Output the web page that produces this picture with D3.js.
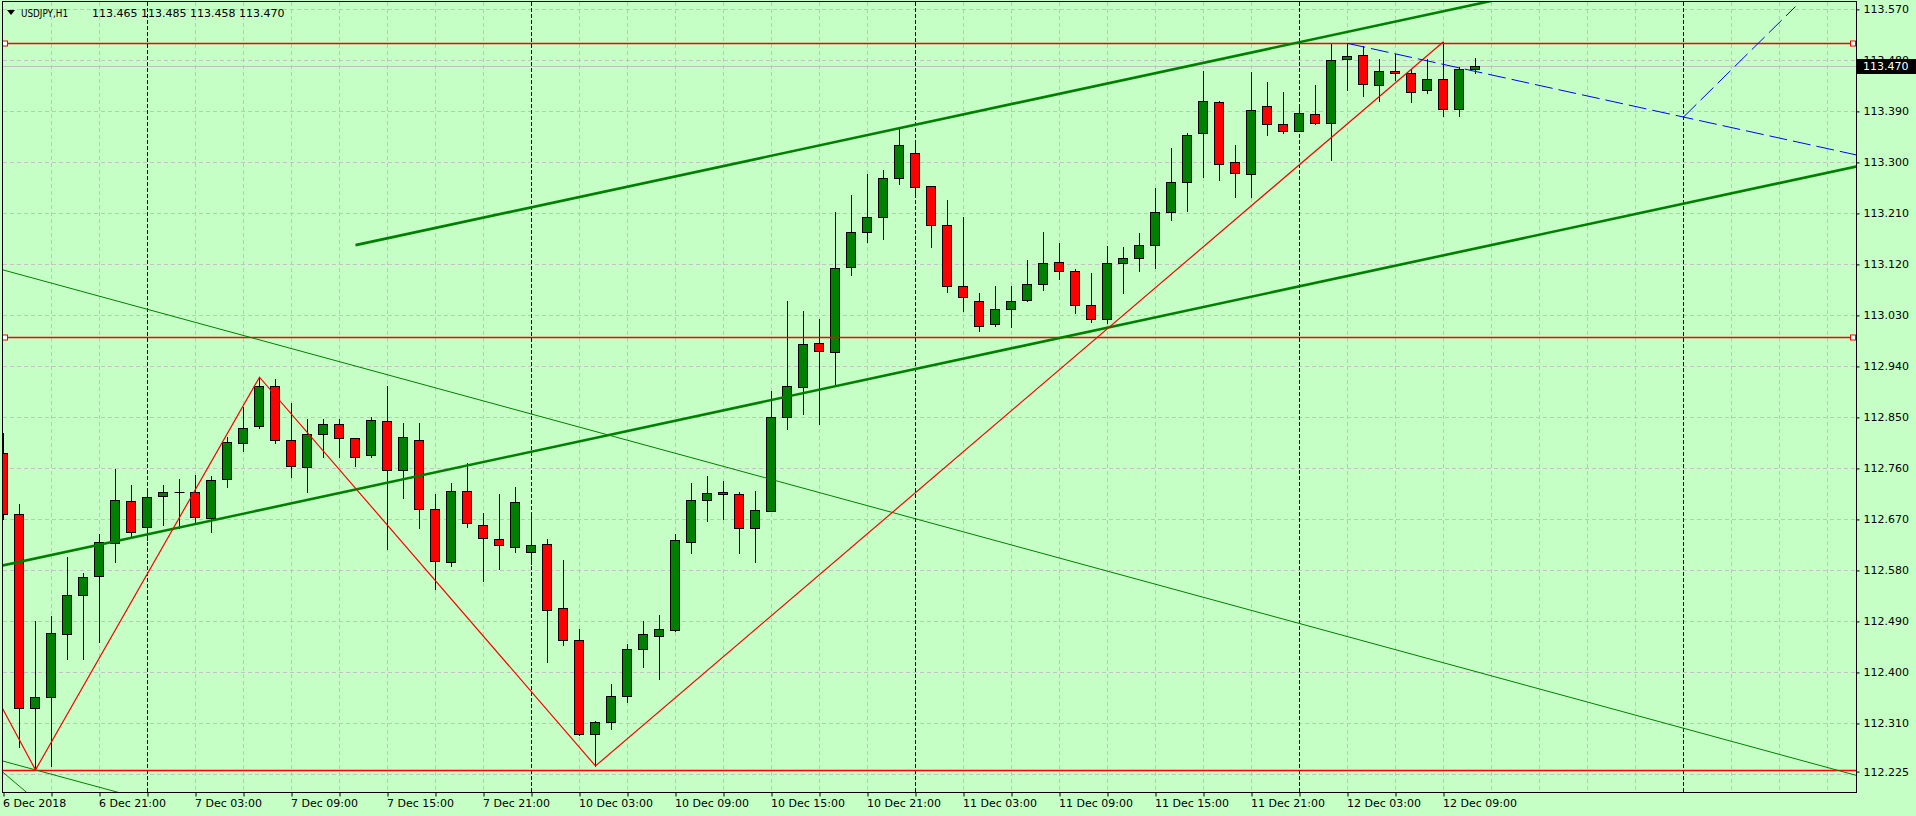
<!DOCTYPE html>
<html lang="en">
<head>
<meta charset="UTF-8">
<title>USDJPY,H1</title>
<style>
  * { margin: 0; box-sizing: border-box; }
  body { background: #c5ffc5; overflow: hidden; }
  svg { display: block; font-family: 'DejaVu Sans', sans-serif; font-size: 11px; }
  .grid line { stroke: #c3c3c3; stroke-dasharray: 4,3; shape-rendering: crispEdges; }
  .sep line { stroke: #000; stroke-dasharray: 4,2; shape-rendering: crispEdges; }
</style>
</head>
<body>
<svg></svg>
<script src="https://d3js.org/d3.v7.min.js"></script>
<script>
  const symbol = 'USDJPY,H1';

  // hourly bars, 6 Dec 15:00 .. 12 Dec 11:00
  const opens = [
    112.788, 112.679, 112.337, 112.356, 112.467, 112.536, 112.571, 112.629, 112.702, 112.656,
    112.711, 112.718, 112.718, 112.672, 112.741, 112.804, 112.834, 112.906, 112.811, 112.762,
    112.820, 112.839, 112.813, 112.783, 112.843, 112.758, 112.811, 112.688, 112.594, 112.721,
    112.661, 112.636, 112.621, 112.612, 112.626, 112.513, 112.457, 112.291, 112.312, 112.358,
    112.441, 112.465, 112.474, 112.631, 112.705, 112.718, 112.714, 112.654, 112.684, 112.850,
    112.903, 112.981, 112.966, 113.115, 113.178, 113.203, 113.272, 113.316, 113.258, 113.189,
    113.081, 113.056, 113.014, 113.042, 113.058, 113.085, 113.125, 113.108, 113.049, 113.023,
    113.122, 113.132, 113.155, 113.213, 113.266, 113.351, 113.406, 113.300, 113.279, 113.399,
    113.367, 113.356, 113.386, 113.369, 113.482, 113.489, 113.437, 113.462, 113.457, 113.427,
    113.448, 113.395, 113.465
  ];
  const highs = [
    112.822, 112.698, 112.491, 112.499, 112.604, 112.575, 112.644, 112.759, 112.730, 112.725,
    112.730, 112.742, 112.749, 112.746, 112.815, 112.869, 112.921, 112.918, 112.875, 112.848,
    112.848, 112.848, 112.814, 112.850, 112.905, 112.841, 112.841, 112.714, 112.734, 112.769,
    112.682, 112.714, 112.727, 112.682, 112.635, 112.598, 112.476, 112.314, 112.379, 112.451,
    112.490, 112.501, 112.644, 112.734, 112.746, 112.737, 112.719, 112.721, 112.896, 113.055,
    113.037, 113.023, 113.213, 113.242, 113.279, 113.286, 113.360, 113.339, 113.259, 113.233,
    113.203, 113.069, 113.081, 113.081, 113.127, 113.178, 113.157, 113.111, 113.104, 113.153,
    113.150, 113.176, 113.254, 113.326, 113.351, 113.461, 113.409, 113.330, 113.459, 113.441,
    113.425, 113.402, 113.436, 113.510, 113.510, 113.506, 113.483, 113.492, 113.464, 113.482,
    113.513, 113.468, 113.485
  ];
  const lows = [
    112.670, 112.269, 112.228, 112.235, 112.424, 112.424, 112.454, 112.594, 112.638, 112.634,
    112.661, 112.654, 112.666, 112.647, 112.728, 112.790, 112.831, 112.804, 112.745, 112.718,
    112.780, 112.780, 112.764, 112.781, 112.617, 112.707, 112.654, 112.548, 112.587, 112.656,
    112.562, 112.582, 112.612, 112.592, 112.419, 112.449, 112.289, 112.235, 112.301, 112.347,
    112.409, 112.388, 112.473, 112.610, 112.667, 112.670, 112.610, 112.594, 112.684, 112.830,
    112.856, 112.838, 112.906, 113.101, 113.159, 113.164, 113.261, 113.240, 113.150, 113.072,
    113.037, 113.002, 113.011, 113.009, 113.056, 113.075, 113.095, 113.035, 113.018, 113.016,
    113.069, 113.108, 113.113, 113.199, 113.215, 113.275, 113.269, 113.239, 113.239, 113.349,
    113.351, 113.355, 113.368, 113.305, 113.427, 113.418, 113.409, 113.445, 113.406, 113.422,
    113.381, 113.381, 113.458
  ];
  const closes = [
    112.679, 112.337, 112.357, 112.469, 112.536, 112.569, 112.631, 112.704, 112.647, 112.709,
    112.718, 112.718, 112.674, 112.739, 112.806, 112.832, 112.906, 112.811, 112.764, 112.820,
    112.839, 112.813, 112.781, 112.845, 112.758, 112.815, 112.688, 112.596, 112.721, 112.663,
    112.638, 112.624, 112.700, 112.624, 112.511, 112.457, 112.291, 112.312, 112.358, 112.442,
    112.467, 112.476, 112.633, 112.704, 112.716, 112.714, 112.654, 112.686, 112.850, 112.905,
    112.979, 112.968, 113.113, 113.178, 113.203, 113.272, 113.330, 113.256, 113.190, 113.081,
    113.062, 113.011, 113.042, 113.056, 113.085, 113.122, 113.109, 113.049, 113.023, 113.122,
    113.132, 113.155, 113.212, 113.266, 113.349, 113.409, 113.298, 113.281, 113.393, 113.367,
    113.356, 113.388, 113.369, 113.480, 113.487, 113.439, 113.462, 113.457, 113.425, 113.448,
    113.395, 113.464, 113.470
  ];

  const priceGrid = [113.570, 113.480, 113.390, 113.300, 113.210, 113.120, 113.030, 112.940,
    112.850, 112.760, 112.670, 112.580, 112.490, 112.400, 112.310, 112.220];
  const priceLabels = [113.570, 113.480, 113.390, 113.300, 113.210, 113.120, 113.030, 112.940,
    112.850, 112.760, 112.670, 112.580, 112.490, 112.400, 112.310, 112.225];

  const labelBars = [0, 6, 12, 18, 24, 30, 36, 42, 48, 54, 60, 66, 72, 78, 84, 90];
  const labelTexts = ['6 Dec 2018', '6 Dec 21:00', '7 Dec 03:00', '7 Dec 09:00', '7 Dec 15:00',
    '7 Dec 21:00', '10 Dec 03:00', '10 Dec 09:00', '10 Dec 15:00', '10 Dec 21:00',
    '11 Dec 03:00', '11 Dec 09:00', '11 Dec 15:00', '11 Dec 21:00', '12 Dec 03:00', '12 Dec 09:00'];
  const daySeparators = [9, 33, 57, 81, 105];

  // objects on the chart, as [bar, price] pairs
  const hLevels = [113.510, 112.991, 112.228];
  const zigzag = [[-2, 112.438], [2, 112.228], [16, 112.921], [37, 112.235], [90, 113.513]];
  const channelUpper = [[22, 113.154], [94, 113.591]];
  const channelLower = [[0, 112.589], [116, 113.294]];
  const fallLine = [[30, 112.879], [60, 112.648]];
  const fallLine2 = [[2, 112.228], [8, 112.182]];
  const steepLine = [[-1, 112.247], [3, 112.151]];
  const blueRay = [[84, 113.510], [105, 113.380]];
  const blueUp = [[105, 113.380], [112, 113.575]];

  const width = 1916;
  const height = 816;
  const plotLeft = 2.5, plotRight = 1856.5, plotTop = 1.5, plotBottom = 792.5;

  const svg = d3.select('svg').attr('width', width).attr('height', height);

  const xScale = d3.scaleLinear().domain([0, 100]).range([3.5, 1603.5]);
  const yScale = d3.scaleLinear().domain([112.189, 113.583]).range([792, 2]);

  const lastBar = opens.length - 1;
  const bid = closes[lastBar];

  svg.append('defs').append('clipPath').attr('id', 'plot')
    .append('rect')
    .attr('x', plotLeft).attr('y', plotTop)
    .attr('width', plotRight - plotLeft).attr('height', plotBottom - plotTop);

  const plot = svg.append('g').attr('clip-path', 'url(#plot)');

  // grid
  const grid = plot.append('g').attr('class', 'grid');
  grid.selectAll('.h').data(priceGrid).enter().append('line')
    .attr('x1', plotLeft).attr('x2', plotRight)
    .attr('y1', d => Math.round(yScale(d)) + 0.5)
    .attr('y2', d => Math.round(yScale(d)) + 0.5);
  grid.selectAll('.v').data(d3.range(3, 115, 3).filter(b => !daySeparators.includes(b))).enter().append('line')
    .attr('x1', d => xScale(d)).attr('x2', d => xScale(d))
    .attr('y1', plotTop).attr('y2', plotBottom);

  plot.append('g').attr('class', 'sep')
    .selectAll('line').data(daySeparators).enter().append('line')
    .attr('x1', d => xScale(d)).attr('x2', d => xScale(d))
    .attr('y1', plotTop).attr('y2', plotBottom);

  // bid line
  plot.append('line')
    .attr('x1', plotLeft).attr('x2', plotRight)
    .attr('y1', Math.round(yScale(bid)) + 0.5).attr('y2', Math.round(yScale(bid)) + 0.5)
    .attr('stroke', '#c0c0c0');

  // candles
  const candles = plot.append('g');
  d3.range(opens.length).forEach(i => {
    const o = opens[i], c = closes[i];
    const cx = xScale(i);
    candles.append('line')
      .attr('x1', cx).attr('x2', cx)
      .attr('y1', Math.round(yScale(highs[i]))).attr('y2', Math.round(yScale(lows[i])) + 1)
      .attr('stroke', '#000');
    const yt = Math.round(yScale(Math.max(o, c)));
    const yb = Math.round(yScale(Math.min(o, c)));
    if (yb - yt < 1) {
      candles.append('line')
        .attr('x1', cx - 5).attr('x2', cx + 5)
        .attr('y1', yt + 0.5).attr('y2', yt + 0.5)
        .attr('stroke', '#000');
    } else {
      candles.append('rect')
        .attr('x', cx - 5).attr('y', yt + 0.5)
        .attr('width', 9).attr('height', yb - yt)
        .attr('fill', c > o ? '#008000' : '#ff0000')
        .attr('stroke', '#000');
    }
  });

  // lines
  const line = d3.line().x(d => xScale(d[0])).y(d => yScale(d[1]));

  function extend(pts, b0, b1) {
    const [p, q] = pts;
    const k = (q[1] - p[1]) / (q[0] - p[0]);
    return [[b0, p[1] + k * (b0 - p[0])], [b1, p[1] + k * (b1 - p[0])]];
  }

  hLevels.forEach(v => {
    plot.append('line')
      .attr('x1', plotLeft).attr('x2', plotRight)
      .attr('y1', Math.round(yScale(v)) + 0.5).attr('y2', Math.round(yScale(v)) + 0.5)
      .attr('stroke', '#ff0000').attr('stroke-width', 1.6);
  });

  plot.append('path').datum(extend(fallLine, -5, 125))
    .attr('d', line).attr('fill', 'none').attr('stroke', '#008000').attr('stroke-width', 1);
  plot.append('path').datum(extend(fallLine2, -5, 20))
    .attr('d', line).attr('fill', 'none').attr('stroke', '#008000').attr('stroke-width', 1);
  plot.append('path').datum(extend(steepLine, -3, 6))
    .attr('d', line).attr('fill', 'none').attr('stroke', '#008000').attr('stroke-width', 1);

  plot.append('path').datum(channelUpper)
    .attr('d', line).attr('fill', 'none').attr('stroke', '#008000').attr('stroke-width', 2.6);
  plot.append('path').datum(extend(channelLower, -5, 125))
    .attr('d', line).attr('fill', 'none').attr('stroke', '#008000').attr('stroke-width', 2.6);

  plot.append('path').datum(zigzag)
    .attr('d', line).attr('fill', 'none').attr('stroke', '#ff0000').attr('stroke-width', 1.2);

  plot.append('path').datum(extend(blueRay, 84, 125))
    .attr('d', line).attr('fill', 'none').attr('stroke', '#0000ff').attr('stroke-width', 1)
    .attr('stroke-dasharray', '18,6');
  plot.append('path').datum(blueUp)
    .attr('d', line).attr('fill', 'none').attr('stroke', '#0000ff').attr('stroke-width', 1)
    .attr('stroke-dasharray', '18,6');

  // selection squares on the upper horizontal lines
  hLevels.slice(0, 2).forEach(v => {
    [5, 1853].forEach(x => {
      svg.append('rect')
        .attr('x', x - 2.5).attr('y', Math.round(yScale(v)) - 2)
        .attr('width', 5).attr('height', 5)
        .attr('fill', '#fff').attr('stroke', '#ff0000');
    });
  });

  // frame
  svg.append('rect')
    .attr('x', plotLeft).attr('y', plotTop)
    .attr('width', plotRight - plotLeft).attr('height', plotBottom - plotTop)
    .attr('fill', 'none').attr('stroke', '#000');

  // price axis
  const yAxis = svg.append('g')
    .attr('transform', 'translate(' + plotRight + ',0)')
    .call(d3.axisRight(yScale)
      .tickValues(priceLabels)
      .tickSize(3)
      .tickPadding(4)
      .tickFormat(d3.format('.3f')));
  yAxis.select('.domain').remove();
  yAxis.selectAll('text').attr('fill', '#000')
    .style('font-family', "'DejaVu Sans', sans-serif").style('font-size', '11px');

  // time axis
  const xAxis = svg.append('g')
    .attr('transform', 'translate(0,' + plotBottom + ')')
    .call(d3.axisBottom(xScale)
      .tickValues(d3.range(0, lastBar + 1, 3))
      .tickSize(4)
      .tickPadding(3)
      .tickFormat(d => {
        const k = labelBars.indexOf(d);
        return k < 0 ? '' : labelTexts[k];
      }));
  xAxis.select('.domain').remove();
  xAxis.selectAll('text')
    .attr('text-anchor', 'start')
    .attr('x', -1)
    .attr('fill', '#000')
    .style('font-family', "'DejaVu Sans', sans-serif").style('font-size', '11px');

  // current price label
  const fmt = d3.format('.3f');
  svg.append('rect')
    .attr('x', 1857).attr('y', Math.round(yScale(bid)) - 7)
    .attr('width', 59).attr('height', 15)
    .attr('fill', '#000');
  svg.append('text')
    .attr('x', 1863).attr('y', yScale(bid))
    .attr('dy', '0.35em')
    .attr('fill', '#fff')
    .text(fmt(bid));

  // header
  svg.append('path')
    .attr('d', 'M7,10 L15,10 L11,15 Z')
    .attr('fill', '#000');
  svg.append('text')
    .attr('x', 21).attr('y', 17)
    .attr('textLength', 47).attr('lengthAdjust', 'spacingAndGlyphs')
    .attr('fill', '#000')
    .text(symbol);
  svg.append('text')
    .attr('x', 92).attr('y', 17)
    .attr('fill', '#000')
    .text([opens[lastBar], highs[lastBar], lows[lastBar], closes[lastBar]].map(fmt).join(' '));
</script>
</body>
</html>
